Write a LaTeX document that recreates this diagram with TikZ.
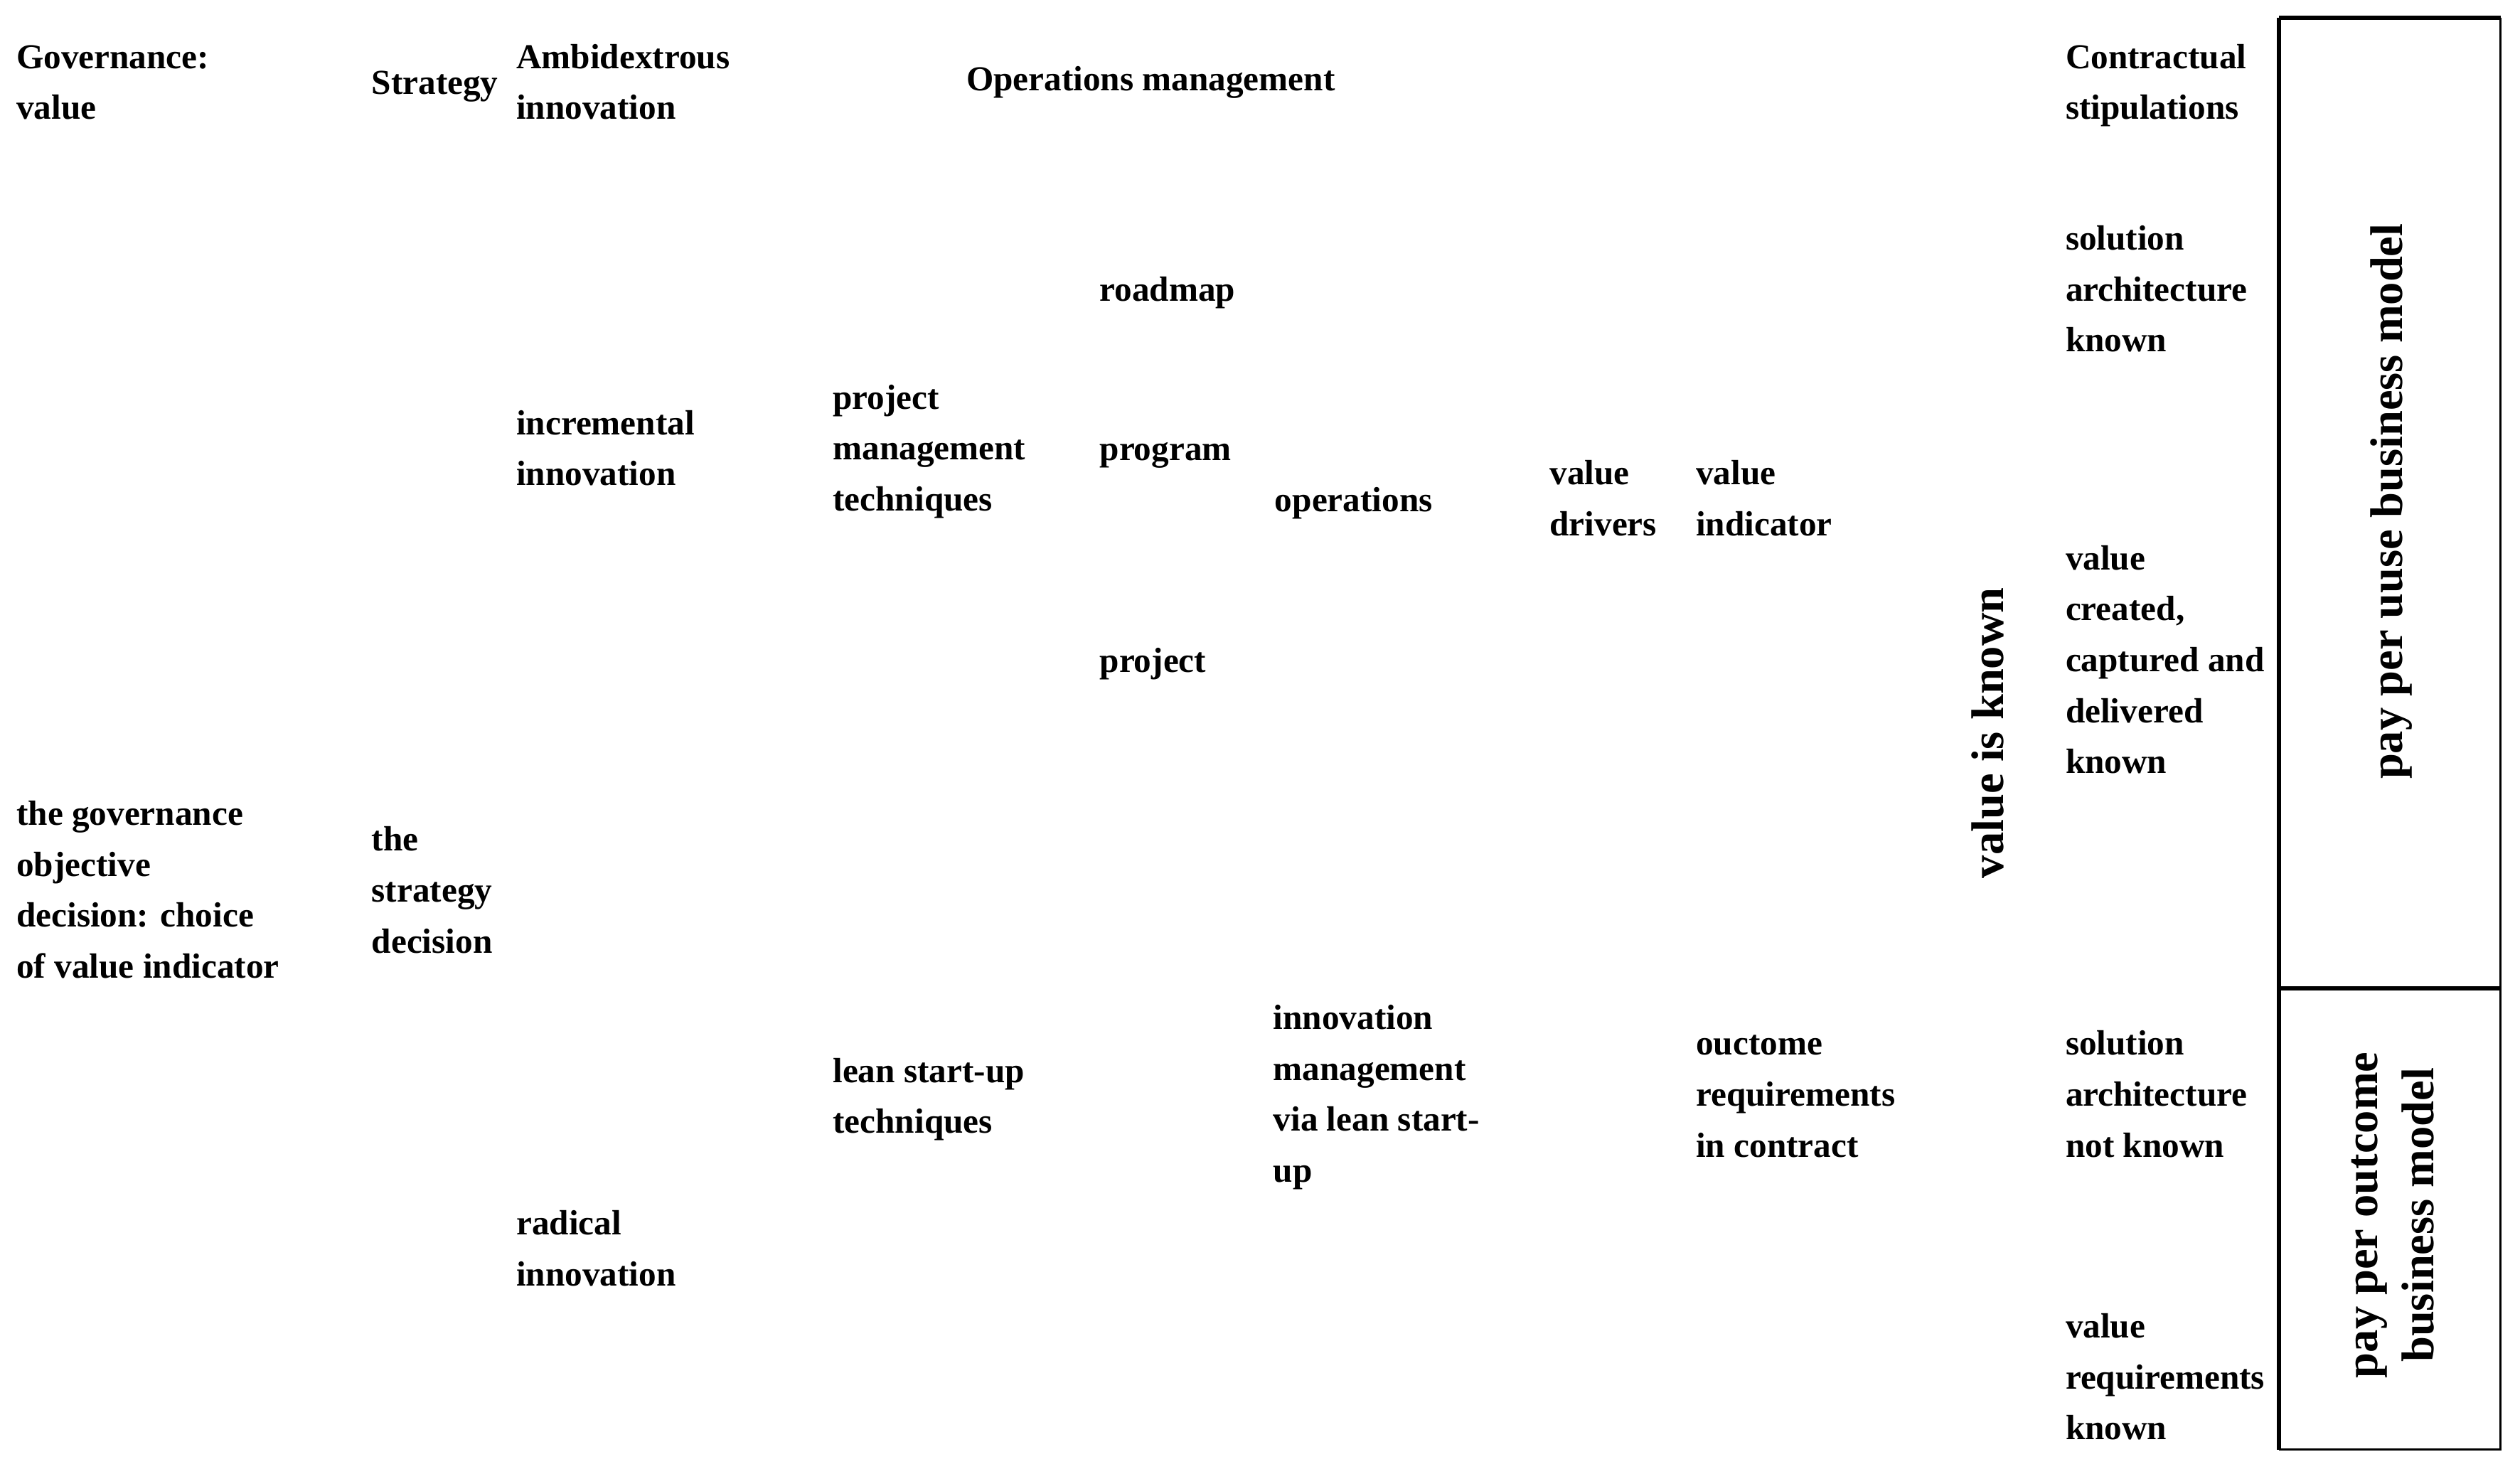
\documentclass[tikz,border=0pt]{standalone}
\usepackage{fontspec}
\setmainfont{Liberation Serif}
\begin{document}
\begin{tikzpicture}[x=0.25mm,y=-0.25mm,
  lbl/.style={anchor=north west, inner sep=0pt, align=left,
    font={\fontsize{15.5}{22.55}\selectfont\bfseries}},
  rot/.style={inner sep=0pt, rotate=90, align=center,
    font={\fontsize{20.3}{24.9}\selectfont\bfseries}},
  thickedge/.style={line width=0.6mm},
  thinedge/.style={line width=0.35mm}]
\useasboundingbox[fill=white] (0,0) rectangle (1568,917);
% texts (first line centre y minus 16)
\node[lbl] (gov)    at (10,20)    {\strut Governance:\\value};
\node[lbl] (strat)  at (231,36)   {\strut Strategy};
\node[lbl] (ambi)   at (321,20)   {\strut Ambidextrous\\innovation};
\node[lbl] (opm)    at (601,34)   {\strut Operations management};
\node[lbl] (contr)  at (1285,20)  {\strut Contractual\\stipulations};
\node[lbl] (sol1)   at (1285,133) {\strut solution\\architecture\\known};
\node[lbl] (road)   at (684,165)  {\strut roadmap};
\node[lbl] (incr)   at (321,248)  {\strut incremental\\innovation};
\node[lbl] (pmt)    at (518,232)  {\strut project\\management\\techniques};
\node[lbl] (prog)   at (684,264)  {\strut program};
\node[lbl] (ops)    at (793,296)  {\strut operations};
\node[lbl] (vd)     at (964,279)  {\strut value\\drivers};
\node[lbl] (vi)     at (1055,279) {\strut value\\indicator};
\node[lbl] (vck)    at (1285,332) {\strut value\\created,\\captured and\\delivered\\known};
\node[lbl] (proj)   at (684,396)  {\strut project};
\node[lbl] (govobj) at (10,491)   {\strut the governance\\objective\\decision: choice\\of value indicator};
\node[lbl] (stratd) at (231,507)  {\strut the\\strategy\\decision};
\node[lbl] (innov)  at (792,618)  {\strut innovation\\management\\via lean start-\\up};
\node[lbl] (lean)   at (518,651)  {\strut lean start-up\\techniques};
\node[lbl] (outc)   at (1055,634) {\strut ouctome\\requirements\\in contract};
\node[lbl] (sol2)   at (1285,634) {\strut solution\\architecture\\not known};
\node[lbl] (rad)    at (321,746)  {\strut radical\\innovation};
\node[lbl] (vrk)    at (1285,810) {\strut value\\requirements\\known};
% rotated texts
\node[rot] (vik) at (1237,456) {value is known};
\node[rot] (ppu) at (1488,312) {pay per uuse business model};
\node[rot] (ppo) at (1489,756) {pay per outcome\\business model};
% box
\coordinate (tl) at (1418,11);
\coordinate (tr) at (1556,11);
\coordinate (ml) at (1418,615);
\coordinate (mr) at (1556,615);
\coordinate (bl) at (1418,902);
\coordinate (br) at (1556,902);
\draw[thinedge] (tr) -- (br) -- (bl);
\draw[thickedge] (tl) -- (tr);
\draw[thickedge] (ml) -- (mr);
\draw[thickedge] (tl) -- (bl);
\end{tikzpicture}
\end{document}
